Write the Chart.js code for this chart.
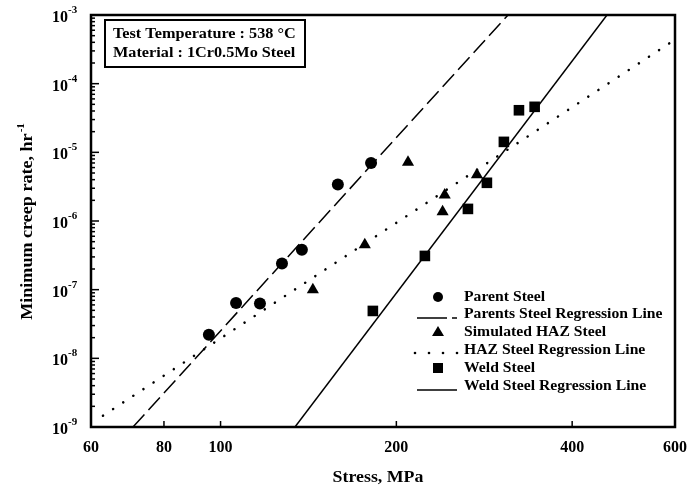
<!DOCTYPE html>
<html>
<head>
<meta charset="utf-8">
<script src="https://cdn.jsdelivr.net/npm/chart.js@4"></script>
<style>
html,body{margin:0;padding:0;background:#fff;}
#wrap{position:relative;width:689px;height:492px;}
</style>
</head>
<body>
<div id="wrap"><canvas id="c" width="689" height="492"></canvas></div>
<script>
// ---- data ----
const parentStress = [95.5, 106.3, 116.8, 127.4, 137.8, 158.8, 181];
const parentRate   = [2.2e-8, 6.4e-8, 6.3e-8, 2.4e-7, 3.8e-7, 3.4e-6, 7.0e-6];

const hazStress = [143.9, 176.6, 209.4, 242, 240, 274.8];
const hazRate   = [1.0e-7, 4.5e-7, 7.2e-6, 2.4e-6, 1.36e-6, 4.7e-6];

const weldStress = [182.3, 223.8, 265.2, 285.8, 305.6, 324.3, 345];
const weldRate   = [4.9e-8, 3.1e-7, 1.5e-6, 3.6e-6, 1.42e-5, 4.1e-5, 4.6e-5];

const parentLineStress = [70.8, 310.6];
const parentLineRate   = [1e-9, 1e-3];
const hazLineStress = [62.9, 587.6];
const hazLineRate   = [1.46e-9, 3.9e-4];
const weldLineStress = [134.1, 458.9];
const weldLineRate   = [1e-9, 1e-3];

const xTickValues = [60, 80, 100, 200, 400, 600];
const yTickExponents = [-9, -8, -7, -6, -5, -4, -3];

const legendLabels = ['Parent Steel', 'Parents Steel Regression Line', 'Simulated HAZ Steel',
                      'HAZ Steel Regression Line', 'Weld Steel', 'Weld Steel Regression Line'];
const noteLines = ['Test Temperature : 538 \u00B0C', 'Material : 1Cr0.5Mo Steel'];
const xTitle = 'Stress, MPa';
const yTitle = 'Minimum creep rate, hr';

const zip = (xs, ys) => xs.map((x, i) => ({x: x, y: ys[i]}));
const FONT = '"Liberation Serif", "Times New Roman", serif';

function wideText(ctx, text, x, y, font, sx, align) {
  ctx.save();
  ctx.font = font;
  ctx.textAlign = align || 'left';
  ctx.textBaseline = 'middle';
  ctx.translate(x, y);
  ctx.scale(sx, 1);
  ctx.fillText(text, 0, 0);
  ctx.restore();
}

const decor = {
  id: 'decor',
  afterDraw(chart) {
    const ctx = chart.ctx, a = chart.chartArea;
    const xs = chart.scales.x, ys = chart.scales.y;
    ctx.save();
    ctx.fillStyle = '#000'; ctx.strokeStyle = '#000';
    // frame
    ctx.lineWidth = 2.5;
    ctx.strokeRect(a.left, a.top, a.right - a.left, a.bottom - a.top);
    // y ticks (major + minor) on left axis
    ctx.lineWidth = 1.5;
    for (let e = -9; e <= -3; e++) {
      const yp = ys.getPixelForValue(Math.pow(10, e));
      ctx.beginPath(); ctx.moveTo(a.left, yp); ctx.lineTo(a.left + 8, yp); ctx.stroke();
      if (e < -3) {
        for (let m = 2; m <= 9; m++) {
          const ym = ys.getPixelForValue(m * Math.pow(10, e));
          ctx.beginPath(); ctx.moveTo(a.left, ym); ctx.lineTo(a.left + 4, ym); ctx.stroke();
        }
      }
    }
    // x ticks
    xTickValues.forEach(v => {
      const xp = xs.getPixelForValue(v);
      ctx.beginPath(); ctx.moveTo(xp, a.bottom); ctx.lineTo(xp, a.bottom - 6); ctx.stroke();
    });
    // y tick labels
    yTickExponents.forEach(e => {
      const yp = ys.getPixelForValue(Math.pow(10, e));
      wideText(ctx, '10', 52, yp + 3, 'bold 16px ' + FONT, 1);
      wideText(ctx, String(e), 68, yp - 5, 'bold 11px ' + FONT, 1);
    });
    // x tick labels
    xTickValues.forEach(v => {
      wideText(ctx, String(v), xs.getPixelForValue(v), 448, 'bold 16px ' + FONT, 1, 'center');
    });
    // axis titles
    wideText(ctx, xTitle, 378, 478, 'bold 17px ' + FONT, 1.05, 'center');
    ctx.save();
    ctx.translate(28, 222);
    ctx.rotate(-Math.PI / 2);
    const sxT = 1.13;
    ctx.font = 'bold 16px ' + FONT;
    const w1 = ctx.measureText(yTitle).width * sxT;
    ctx.font = 'bold 11px ' + FONT;
    const w2 = ctx.measureText('-1').width;
    const start = -(w1 + w2) / 2;
    wideText(ctx, yTitle, start, 0, 'bold 16px ' + FONT, sxT);
    wideText(ctx, '-1', start + w1 + 1, -7, 'bold 11px ' + FONT, 1);
    ctx.restore();
    // annotation box
    ctx.lineWidth = 2;
    ctx.strokeRect(105, 20, 200, 47);
    wideText(ctx, noteLines[0], 113, 34, 'bold 14px ' + FONT, 1.16);
    wideText(ctx, noteLines[1], 113, 53, 'bold 14px ' + FONT, 1.16);
    // legend
    const ly = [297, 314, 332, 350, 368, 386];
    legendLabels.forEach((t, i) => wideText(ctx, t, 464, ly[i], 'bold 14px ' + FONT, 1.12));
    // symbols
    ctx.beginPath(); ctx.arc(438, ly[0], 5, 0, Math.PI * 2); ctx.fill();
    ctx.beginPath(); ctx.moveTo(438, ly[2] - 6); ctx.lineTo(444, ly[2] + 4); ctx.lineTo(432, ly[2] + 4); ctx.closePath(); ctx.fill();
    ctx.fillRect(433, ly[4] - 5, 10, 10);
    ctx.lineWidth = 1.5;
    ctx.beginPath(); ctx.moveTo(417, ly[1] + 4); ctx.lineTo(447, ly[1] + 4); ctx.moveTo(452, ly[1] + 4); ctx.lineTo(457, ly[1] + 4); ctx.stroke();
    [415, 429, 443, 457].forEach(x => { ctx.beginPath(); ctx.arc(x, ly[3] + 3, 1.3, 0, Math.PI * 2); ctx.fill(); });
    ctx.beginPath(); ctx.moveTo(417, ly[5] + 4); ctx.lineTo(457, ly[5] + 4); ctx.stroke();
    ctx.restore();
  }
};

new Chart(document.getElementById('c'), {
  type: 'scatter',
  data: {
    datasets: [
      {label: legendLabels[0], data: zip(parentStress, parentRate), pointStyle: 'circle', pointRadius: 6,
       backgroundColor: '#000', borderColor: '#000', borderWidth: 0},
      {label: legendLabels[1], data: zip(parentLineStress, parentLineRate), showLine: true, pointRadius: 0,
       borderColor: '#000', borderWidth: 1.5, borderDash: [17, 6]},
      {label: legendLabels[2], data: zip(hazStress, hazRate), pointStyle: 'triangle', pointRadius: 7,
       backgroundColor: '#000', borderColor: '#000', borderWidth: 0},
      {label: legendLabels[3], data: zip(hazLineStress, hazLineRate), showLine: true, pointRadius: 0,
       borderColor: '#000', borderWidth: 2.5, borderDash: [0.1, 12], borderCapStyle: 'round'},
      {label: legendLabels[4], data: zip(weldStress, weldRate), pointStyle: 'rect', pointRadius: 7.5,
       backgroundColor: '#000', borderColor: '#000', borderWidth: 0},
      {label: legendLabels[5], data: zip(weldLineStress, weldLineRate), showLine: true, pointRadius: 0,
       borderColor: '#000', borderWidth: 1.5}
    ]
  },
  options: {
    responsive: false,
    animation: false,
    layout: {padding: {left: 0, top: 15, right: 14, bottom: 0}},
    plugins: {legend: {display: false}, tooltip: {enabled: false}},
    scales: {
      x: {
        type: 'logarithmic', min: 60, max: 600,
        grid: {display: false}, border: {display: false},
        ticks: {display: false},
        afterBuildTicks: s => { s.ticks = xTickValues.map(v => ({value: v})); },
        afterFit: s => { s.height = 65; }
      },
      y: {
        type: 'logarithmic', min: 1e-9, max: 1e-3,
        grid: {display: false}, border: {display: false},
        ticks: {display: false},
        afterBuildTicks: s => { s.ticks = yTickExponents.map(e => ({value: Math.pow(10, e)})); },
        afterFit: s => { s.width = 91; }
      }
    }
  },
  plugins: [decor]
});
</script>
</body>
</html>
